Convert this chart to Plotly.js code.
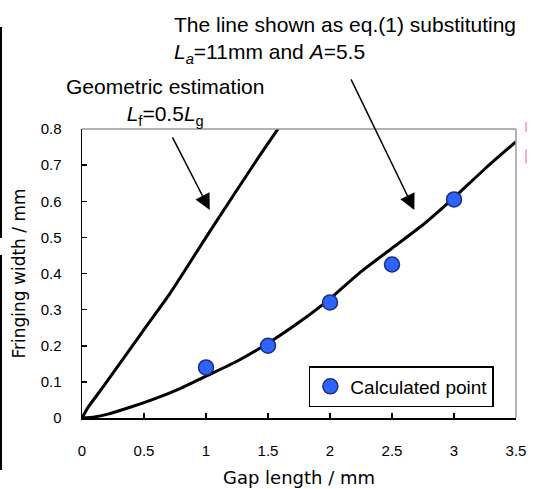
<!DOCTYPE html>
<html>
<head>
<meta charset="utf-8">
<script src="https://cdn.plot.ly/plotly-3.0.1.min.js"></script>
<style>html,body{margin:0;padding:0;background:#fff;}#chart{width:534px;height:489px;}</style>
</head>
<body>
<div id="chart"></div>
<script>
// Data
var geoX = [0, 0.05, 0.17, 0.49, 0.71, 1.0, 1.19, 1.43, 1.6];
var geoY = [0, 0.03, 0.086, 0.24, 0.345, 0.5, 0.6, 0.725, 0.81];

var fitX = [0, 0.1, 0.2, 0.4, 0.6, 0.8, 1.0, 1.25, 1.5, 1.75, 2.0, 2.25, 2.5, 2.75, 3.0, 3.25, 3.5];
var fitY = [0, 0.003, 0.01, 0.031, 0.055, 0.083, 0.116, 0.157, 0.207, 0.265, 0.33, 0.405, 0.47, 0.535, 0.61, 0.69, 0.765];

var calcX = [1, 1.5, 2, 2.5, 3];
var calcY = [0.14, 0.2, 0.32, 0.425, 0.605];

var xTicks = [0, 0.5, 1, 1.5, 2, 2.5, 3, 3.5];
var xTickText = ["0", "0.5", "1", "1.5", "2", "2.5", "3", "3.5"];
var yTicks = [0, 0.1, 0.2, 0.3, 0.4, 0.5, 0.6, 0.7, 0.8];
var yTickText = ["0", "0.1", "0.2", "0.3", "0.4", "0.5", "0.6", "0.7", "0.8"];

var seriesName = "Calculated point";
var xTitle = "Gap length / mm";
var yTitle = "Fringing width / mm";
var noteFit = "The line shown as eq.(1) substituting<br><i>L</i><sub><i>a</i></sub>=11mm and <i>A</i>=5.5";
var noteGeo = "Geometric estimation<br><i>L</i><sub>f</sub>=0.5<i>L</i><sub>g</sub>";

var traces = [
  {x: geoX, y: geoY, mode: 'lines', line: {color: '#000', width: 3, shape: 'spline', smoothing: 0.5}, showlegend: false, hoverinfo: 'skip'},
  {x: fitX, y: fitY, mode: 'lines', line: {color: '#000', width: 3, shape: 'spline', smoothing: 0.5}, showlegend: false, hoverinfo: 'skip'},
  {x: calcX, y: calcY, mode: 'markers', name: seriesName,
   marker: {size: 15, color: '#2f63ff', line: {color: '#1b2f7a', width: 1.5}}}
];

var sans = 'Liberation Sans, Arial, sans-serif';
var layout = {
  width: 534, height: 489,
  margin: {l: 82, r: 18, t: 129, b: 71},
  paper_bgcolor: '#fff', plot_bgcolor: '#fff',
  showlegend: true,
  legend: {x: 0.949, y: 0.038, xanchor: 'right', yanchor: 'bottom',
    bordercolor: '#000', borderwidth: 1.5, bgcolor: '#fff',
    font: {family: sans, size: 19, color: '#000'}, itemwidth: 30, tracegroupgap: 0},
  xaxis: {range: [0, 3.5], tickvals: xTicks, ticktext: xTickText,
    showgrid: false, zeroline: false, showline: true, linecolor: '#000', linewidth: 1.5,
    ticks: 'inside', ticklen: 5, tickcolor: '#000', tickwidth: 1.5,
    ticklabelstandoff: 18,
    tickfont: {family: sans, size: 15, color: '#000'},
    title: {text: xTitle, font: {family: 'DejaVu Sans, sans-serif', size: 18, color: '#000'}, standoff: 14}},
  yaxis: {range: [0, 0.8], tickvals: yTicks, ticktext: yTickText,
    showgrid: false, zeroline: false, showline: true, linecolor: '#000', linewidth: 1.5,
    ticks: 'inside', ticklen: 5, tickcolor: '#000', tickwidth: 1.5,
    ticklabelstandoff: 16,
    tickfont: {family: sans, size: 15, color: '#000'},
    title: {text: yTitle, font: {family: 'DejaVu Sans, sans-serif', size: 17, color: '#000'}, standoff: 10}},
  shapes: [
    {type: 'line', xref: 'paper', yref: 'paper', x0: 0, x1: 1, y0: 1, y1: 1, line: {color: '#999', width: 1.5}},
    {type: 'line', xref: 'paper', yref: 'paper', x0: 1, x1: 1, y0: 0, y1: 1, line: {color: '#999', width: 1.5}},
    {type: 'line', xref: 'paper', yref: 'paper', x0: -0.1866, x1: -0.1866, y0: 1.353, y1: 0.623, line: {color: '#000', width: 2}},
    {type: 'line', xref: 'paper', yref: 'paper', x0: -0.1866, x1: -0.1866, y0: 0.564, y1: -0.18, line: {color: '#000', width: 2}},
    {type: 'line', xref: 'paper', yref: 'paper', x0: 1.023, x1: 1.023, y0: 1.024, y1: 0.99, line: {color: '#f06070', width: 1}},
    {type: 'line', xref: 'paper', yref: 'paper', x0: 1.023, x1: 1.023, y0: 0.93, y1: 0.88, line: {color: '#f06070', width: 1}}
  ],
  annotations: [
    {xref: 'paper', yref: 'paper', x: 0.207, y: 1.41, xanchor: 'left', yanchor: 'top', align: 'left',
     showarrow: false, text: noteFit, font: {family: sans, size: 21, color: '#000'}},
    {xref: 'paper', yref: 'paper', x: 0.191, y: 1.195, xanchor: 'center', yanchor: 'top', align: 'center',
     showarrow: false, text: noteGeo, font: {family: sans, size: 21, color: '#000'}},
    {x: 1.03, y: 0.576, xref: 'x', yref: 'y', text: '', showarrow: true, ax: -38, ay: -74,
     arrowhead: 2, arrowsize: 2.1, arrowwidth: 1.5, arrowcolor: '#000'},
    {x: 2.68, y: 0.576, xref: 'x', yref: 'y', text: '', showarrow: true, ax: -64, ay: -132,
     arrowhead: 2, arrowsize: 2.1, arrowwidth: 1.5, arrowcolor: '#000'}
  ]
};

Plotly.newPlot('chart', traces, layout, {displayModeBar: false, staticPlot: true});
</script>
</body>
</html>
